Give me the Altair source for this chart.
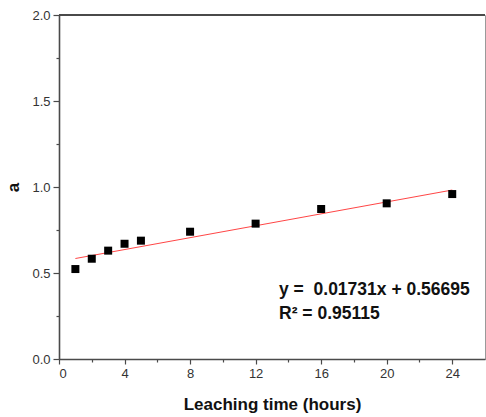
import altair as alt
import pandas as pd

# Data
hours = [1, 2, 3, 4, 5, 8, 12, 16, 20, 24]
a_vals = [0.523, 0.583, 0.630, 0.670, 0.688, 0.740, 0.787, 0.872, 0.905, 0.959]

slope = 0.01731
intercept = 0.56695
fit_x = [1, 24]

x_major = [0, 4, 8, 12, 16, 20, 24]
x_minor = [2, 6, 10, 14, 18, 22]
y_major = [0.0, 0.5, 1.0, 1.5, 2.0]
y_minor = [0.25, 0.75, 1.25, 1.75]

eq_text = "y =\u00a0\u00a00.01731x + 0.56695"
r2_text = "R\u00b2 = 0.95115"

df = pd.DataFrame({"x": hours, "a": a_vals})
fit = pd.DataFrame({"x": fit_x, "a": [slope * v + intercept for v in fit_x]})

FONT = "Liberation Sans"
AX = "#4a4a4a"

xs = alt.Scale(domain=[0, 26], nice=False, zero=False)
ys = alt.Scale(domain=[0, 2], nice=False, zero=False)

x_axis = alt.Axis(
    values=x_major, orient="bottom", title="Leaching time (hours)",
    tickSize=5, tickWidth=1.2, tickColor=AX, domainColor=AX, domainWidth=1.6,
    labelFont=FONT, labelFontSize=13, labelColor="#333", labelPadding=3,
    titleFont=FONT, titleFontSize=17, titleFontWeight="bold", titleColor="#111",
    titlePadding=16, grid=False,
)
y_axis = alt.Axis(
    values=y_major, orient="left", title="a", format=".1f",
    tickSize=6, tickWidth=1.2, tickColor=AX, domainColor=AX, domainWidth=1.6,
    labelFont=FONT, labelFontSize=13, labelColor="#333", labelPadding=3,
    titleFont=FONT, titleFontSize=17, titleFontWeight="bold", titleColor="#111",
    titlePadding=9, grid=False,
)
x_minor_axis = alt.Axis(
    values=x_minor, orient="bottom", title=None, labels=False, domain=False,
    tickSize=3, tickWidth=1.2, tickColor=AX, grid=False,
)
y_minor_axis = alt.Axis(
    values=y_minor, orient="left", title=None, labels=False, domain=False,
    tickSize=3, tickWidth=1.2, tickColor=AX, grid=False,
)

points = alt.Chart(df).mark_point(
    shape="square", filled=True, color="black", size=64, opacity=1
).encode(
    x=alt.X("x:Q", scale=xs, axis=x_axis),
    y=alt.Y("a:Q", scale=ys, axis=y_axis),
)

minor = alt.Chart(df).mark_point(opacity=0).encode(
    x=alt.X("x:Q", scale=xs, axis=x_minor_axis),
    y=alt.Y("a:Q", scale=ys, axis=y_minor_axis),
)

line = alt.Chart(fit).mark_line(color="#ff3030", strokeWidth=0.9).encode(
    x=alt.X("x:Q", scale=xs, axis=None),
    y=alt.Y("a:Q", scale=ys, axis=None),
)

top_border = alt.Chart(df).mark_rule(color=AX, strokeWidth=1.8).encode(
    x=alt.value(0), x2=alt.value(426), y=alt.value(0)
)

eq = alt.Chart(pd.DataFrame({"t": [eq_text]})).mark_text(
    font=FONT, fontSize=17.5, fontWeight="bold", align="left", baseline="alphabetic", color="#111"
).encode(text="t:N", x=alt.value(220), y=alt.value(280))

r2 = alt.Chart(pd.DataFrame({"t": [r2_text]})).mark_text(
    font=FONT, fontSize=17.5, fontWeight="bold", align="left", baseline="alphabetic", color="#111"
).encode(text="t:N", x=alt.value(220), y=alt.value(304))

chart = alt.layer(minor, line, points, top_border, eq, r2).resolve_axis(
    x="independent", y="independent"
).properties(
    width=426, height=344,
    autosize=alt.AutoSizeParams(type="none"),
    padding={"left": 59, "top": 15, "right": 1, "bottom": 58},
).configure_view(stroke="#9a9a9a", strokeWidth=1)

chart.save("out.html", embed_options={"renderer": "svg", "actions": False})
